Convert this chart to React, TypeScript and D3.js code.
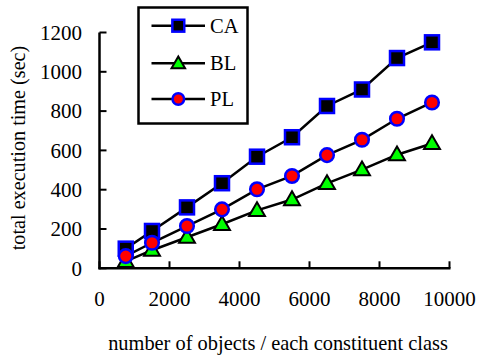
import React from "react";
import * as d3 from "d3";

const xValues = [750, 1500, 2500, 3500, 4500, 5500, 6500, 7500, 8500, 9500];
const caValues = [100, 190, 310, 433, 568, 667, 826, 910, 1070, 1150];
const blValues = [35, 92, 158, 224, 295, 350, 432, 502, 578, 635];
const plValues = [62, 130, 215, 300, 402, 470, 576, 654, 761, 844];
const xTicks = [0, 2000, 4000, 6000, 8000, 10000];
const yTicks = [0, 200, 400, 600, 800, 1000, 1200];
const seriesNames = ["CA", "BL", "PL"];

const FONT = "'Liberation Serif', 'Times New Roman', serif";

export default function App() {
  const x = d3.scaleLinear().domain([0, 10000]).range([99.5, 449.5]);
  const y = d3.scaleLinear().domain([0, 1200]).range([268.3, 32.5]);
  const line = d3
    .line<[number, number]>()
    .x((d) => x(d[0]))
    .y((d) => y(d[1]));

  const series = [caValues, blValues, plValues];

  const marker = (kind: number, cx: number, cy: number, key: string, sc = 1) => {
    if (kind === 0) {
      const h = 7 * sc;
      return (
        <rect key={key} x={cx - h} y={cy - h} width={2 * h} height={2 * h} fill="#000" stroke="#0000ff" strokeWidth={2.5} />
      );
    }
    if (kind === 1) {
      const tri = d3.symbol().type(d3.symbolTriangle).size(110 * sc * sc)();
      return <path key={key} d={tri as string} transform={`translate(${cx},${cy + 1})`} fill="#00ff00" stroke="#000" strokeWidth={2} />;
    }
    return <circle key={key} cx={cx} cy={cy} r={6.8 * sc} fill="#ff0000" stroke="#0000ff" strokeWidth={2.5} />;
  };

  return (
    <svg width={480} height={363} style={{ position: "absolute", left: 0, top: 0 }} fontFamily={FONT}>
      <rect width={480} height={363} fill="#fff" />
      {/* axes */}
      <line x1={x(0)} x2={x(0)} y1={y(0) + 1} y2={y(1200)} stroke="#000" strokeWidth={2.5} />
      <line x1={x(0) - 1} x2={x(10000) + 1} y1={y(0)} y2={y(0)} stroke="#000" strokeWidth={2.5} />
      {yTicks.map((t) => (
        <g key={"yt" + t}>
          <line x1={x(0)} x2={x(0) + 7} y1={y(t)} y2={y(t)} stroke="#000" strokeWidth={2} />
          <text x={82} y={y(t)} dy="0.35em" textAnchor="end" fontSize={21}>
            {t}
          </text>
        </g>
      ))}
      {xTicks.map((t) => (
        <g key={"xt" + t}>
          <line x1={x(t)} x2={x(t)} y1={y(0)} y2={y(0) - 7} stroke="#000" strokeWidth={2} />
          <text x={x(t)} y={306} textAnchor="middle" fontSize={21}>
            {t}
          </text>
        </g>
      ))}
      <text x={278} y={350} textAnchor="middle" fontSize={20.4}>
        number of objects / each constituent class
      </text>
      <text transform="translate(25,148) rotate(-90)" textAnchor="middle" fontSize={20.2}>
        total execution time (sec)
      </text>
      {/* series */}
      {series.map((vals, si) => (
        <path
          key={"l" + si}
          d={line(xValues.map((v, i) => [v, vals[i]] as [number, number])) as string}
          fill="none"
          stroke="#000"
          strokeWidth={2.5}
        />
      ))}
      {series.map((vals, si) => (
        <g key={"m" + si}>{xValues.map((v, i) => marker(si, x(v), y(vals[i]), `${si}-${i}`))}</g>
      ))}
      {/* legend */}
      <rect x={138.5} y={7.5} width={109} height={116} fill="#fff" stroke="#000" strokeWidth={2.5} />
      {seriesNames.map((n, i) => {
        const ly = [25.7, 63.3, 99][i];
        return (
          <g key={"lg" + n}>
            <line x1={151.5} x2={205} y1={ly} y2={ly} stroke="#000" strokeWidth={2.5} />
            {marker(i, 178.3, ly, "lm" + i, 0.85)}
            <text x={210} y={ly} dy="0.35em" fontSize={20.5}>
              {n}
            </text>
          </g>
        );
      })}
    </svg>
  );
}
